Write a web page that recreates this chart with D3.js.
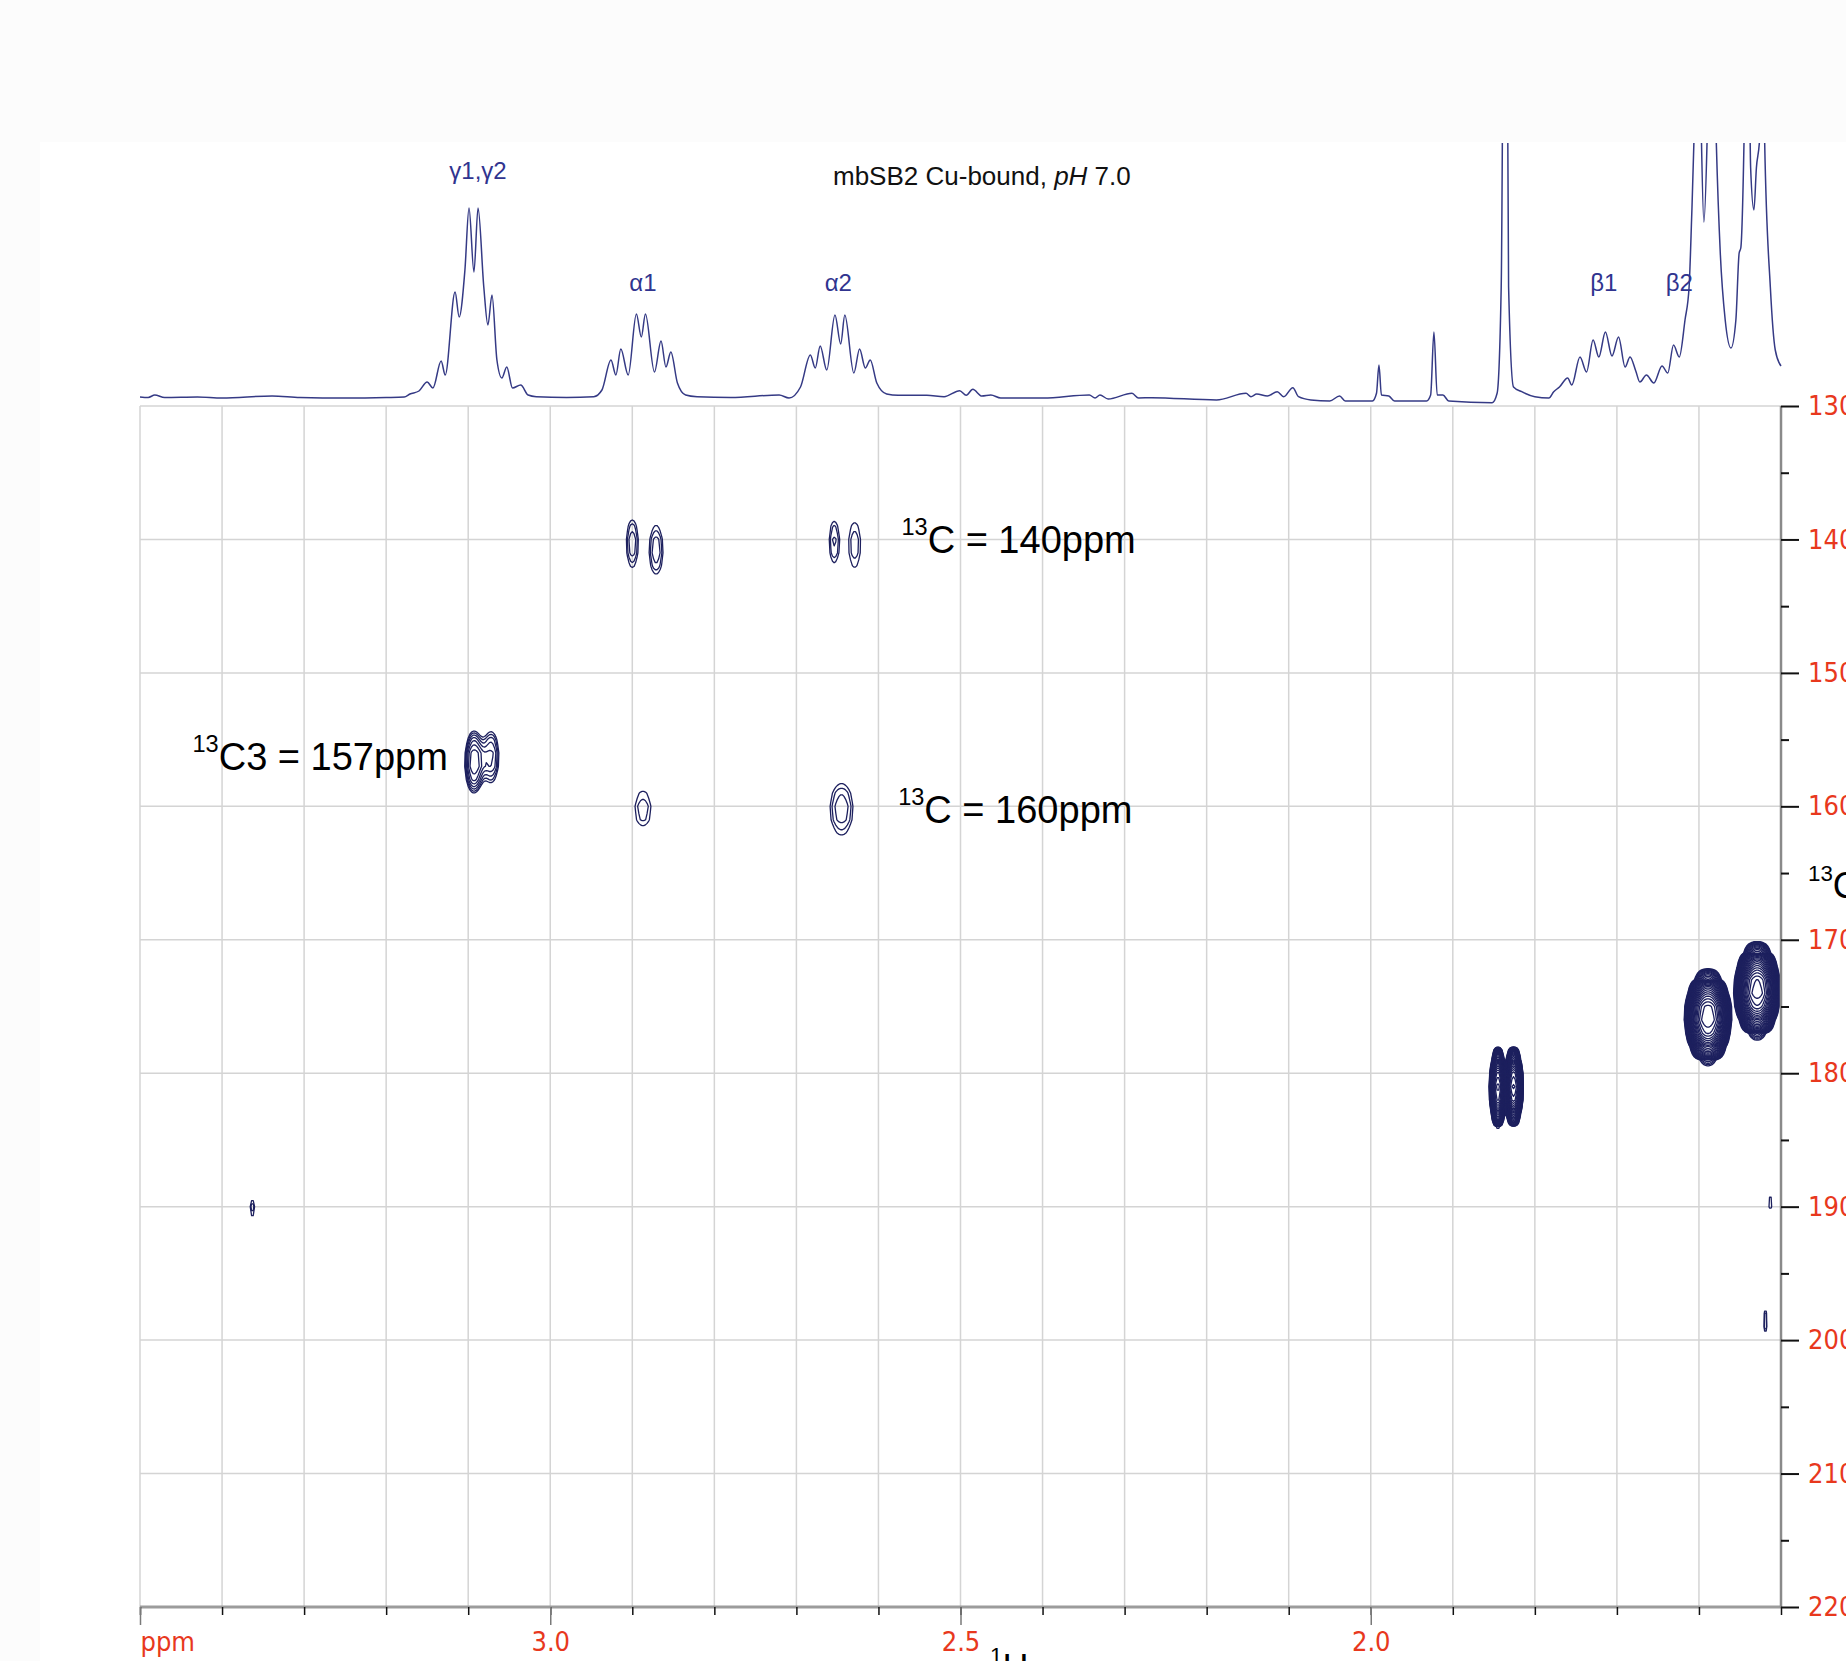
<!DOCTYPE html>
<html><head><meta charset="utf-8">
<script src="https://cdn.jsdelivr.net/npm/d3@7"></script>
<style>
body{margin:0;background:#fcfcfc;}
svg{display:block;}
</style>
</head><body>
<svg id="chart" width="1846" height="1661"></svg>
<script>
// ---------------- DATA ----------------
// 1D 1H projection trace: chemical shift (ppm) and intensity (arb. units)
const specPpm = [3.500,3.490,3.482,3.470,3.430,3.400,3.339,3.305,3.250,3.200,3.178,3.171,3.160,3.150,3.143,3.133,3.128,3.116,3.111,3.104,3.099,3.093,3.088,3.081,3.076,3.071,3.065,3.059,3.053,3.046,3.036,3.027,3.017,2.980,
2.947,2.937,2.926,2.920,2.914,2.905,2.895,2.889,2.884,2.873,2.865,2.859,2.853,2.845,2.835,2.821,2.780,
2.721,2.709,2.695,2.683,2.677,2.671,2.663,2.653,2.646,2.641,2.630,2.623,2.616,2.610,2.602,2.590,2.576,2.541,2.520,2.501,2.493,2.485,2.474,2.463,2.451,
2.399,2.343,2.336,2.330,2.320,2.291,2.283,2.267,2.188,2.152,2.146,2.139,2.126,2.114,2.106,2.095,2.088,2.073,2.050,2.038,2.031,
1.998,1.993,1.990,1.987,1.978,1.971,1.932,1.927,1.923,1.919,1.912,1.905,1.852,1.846,1.841,1.836,1.832,1.826,1.816,1.800,1.783,
1.777,1.770,1.760,1.755,1.745,1.737,1.729,1.722,1.714,1.706,1.698,1.690,1.684,1.677,1.672,1.664,1.655,1.645,1.638,1.631,1.624,1.617,1.612,1.609,
1.606,1.601,1.597,1.594,1.590,1.585,1.579,1.574,1.568,1.561,1.555,1.551,1.549,1.545,1.541,1.537,1.533,1.530,1.526,1.523,1.520,1.513,1.507,1.500];
const specInt = [1,0.5,3,0.5,1,0,2,0.5,0,0.5,1,4,7,16,10,37,23,106,81,128,190,126,190,111,73,103,38,20,31,10,13,3,1.3,0.5,
1.3,8,38,23,49,23,84,61,84,26,57,31,46,15,3,1.3,0.5,
3,0,11,43,30,52,28,83,54,83,25,49,30,38,15,4,2.7,2.7,1.3,7.3,2.7,8.7,2,3,0,
0,3,0,3,-1,4.7,0,0.3,-2,4.7,1.3,4,2,6.3,1.3,10.3,1.3,-2,-3,2,-3,
-3,4.7,33,3,2,-3,-3,3,66,3,3,-3,-4.7,4.7,111,700,111,11,6.3,1.3,0,
6.3,11,20,13,41,26,58,41,66,42,61,31,41,27,16,23,15,32,25,53,41,78,111,178,
260,500,260,176,260,500,260,145,78,50,78,145,150,260,500,230,188,230,260,500,260,111,48,32];

// 2D cross peaks (1H ppm, 13C ppm, relative amplitude, outer half-width 1H ppm, outer half-height 13C ppm)
const peakH   = [2.900, 2.871, 2.654, 2.629, 3.093, 3.072, 2.887, 2.645, 1.845, 1.826, 1.589, 1.529, 3.363, 1.513, 1.519];
const peakC   = [140.3, 140.8, 140.2, 140.4, 156.7, 156.3, 160.2, 160.2, 181.1, 181.0, 175.8, 173.8, 190.1, 189.6, 198.6];
const peakAmp = [1.45, 1.45, 1.35, 1.25, 2.6, 1.8, 1.25, 1.45, 40, 45, 50, 55, 1.3, 1.2, 1.5];
const peakHW  = [0.0073, 0.0085, 0.0060, 0.0073, 0.0113, 0.0095, 0.0098, 0.0140, 0.0105, 0.0120, 0.0290, 0.0285, 0.0028, 0.0025, 0.0020];
const peakCW  = [1.8, 1.85, 1.6, 1.7, 2.3, 1.9, 1.35, 1.95, 2.96, 2.9, 3.4, 3.45, 0.8, 0.6, 0.9];

// axes
const hTicks = [3.5,3.4,3.3,3.2,3.1,3.0,2.9,2.8,2.7,2.6,2.5,2.4,2.3,2.2,2.1,2.0,1.9,1.8,1.7,1.6,1.5];
const hMajor = [3.5,3.0,2.5,2.0];
const hMajorLabels = ["ppm","3.0","2.5","2.0"];
const cTicks = [130,140,150,160,170,180,190,200,210,220];
const cMinor = [135,145,155,165,175,185,195,205,215];

// annotations
const peakLabels = ["γ1,γ2","α1","α2","β1","β2"];
const peakLabelPpm = [3.088, 2.887, 2.649, 1.716, 1.624];
const peakLabelLevel = [219, 107, 107, 107, 107];
const shiftNotes = ["C = 140ppm","C3 = 157ppm","C = 160ppm"];
const shiftNoteH = [2.572, 3.436, 2.576];
const shiftNoteC = [141.0, 157.3, 161.25];
const title = ["mbSB2 Cu-bound, ","pH"," 7.0"];

// ---------------- DRAW ----------------
const W = 1846, H = 1661;
const svg = d3.select("#chart");
const x = d3.scaleLinear().domain([3.5, 1.5]).range([140, 1781]);
const yC = d3.scaleLinear().domain([130, 220]).range([406, 1607]);
const yS = d3.scaleLinear().domain([0, 255]).range([398, 143]);

svg.append("rect").attr("x",40).attr("y",142).attr("width",W-40).attr("height",H-142).attr("fill","#ffffff");

// grid
const grid = svg.append("g").attr("stroke","#d4d4d4").attr("stroke-width",1.5);
grid.selectAll("line.v").data(hTicks.slice(0,-1)).join("line")
  .attr("x1",d=>x(d)).attr("x2",d=>x(d)).attr("y1",yC(130)).attr("y2",yC(220));
grid.selectAll("line.h").data(cTicks.slice(0,-1)).join("line")
  .attr("x1",x(3.5)).attr("x2",x(1.5)).attr("y1",d=>yC(d)).attr("y2",d=>yC(d));

// contours
const hStep = 0.002, cStep = 1.0, P = 2.6;
const nx = Math.round(2/hStep)+1, ny = Math.round(90/cStep)+1;
const vals = new Float64Array(nx*ny);
const sig = peakH.map((_,k)=>{
  const f = Math.pow(2*Math.log(peakAmp[k]), 1/P);
  return [peakHW[k]/f, peakCW[k]/f];
});
for (let j=0;j<ny;j++){
  const c = 130 + j*cStep;
  for (let i=0;i<nx;i++){
    const h = 3.5 - i*hStep;
    let v = 0;
    for (let k=0;k<peakH.length;k++){
      const dh = Math.abs(h-peakH[k])/sig[k][0], dc = Math.abs(c-peakC[k])/sig[k][1];
      const r = Math.sqrt(dh*dh+dc*dc);
      const e = 0.5*Math.pow(r, P);
      if (e < 30) v += peakAmp[k]*Math.exp(-e);
    }
    vals[j*nx+i] = v;
  }
}
const thresholds = d3.range(0, 32).map(k=>Math.pow(1.15,k));
const contours = d3.contours().size([nx,ny]).thresholds(thresholds)(Array.from(vals));
const proj = d3.geoTransform({point:function(gx,gy){
  this.stream.point(x(3.5-(gx-0.5)*hStep), yC(130+(gy-0.5)*cStep));
}});
svg.append("g").selectAll("path").data(contours).join("path")
  .attr("d", d3.geoPath(proj))
  .attr("fill","none").attr("stroke","#1d205e").attr("stroke-width",1.3).attr("stroke-linejoin","round");

// 1D spectrum
svg.append("clipPath").attr("id","sclip").append("rect").attr("x",130).attr("y",143).attr("width",1670).attr("height",280);
const line = d3.line().x((d,i)=>x(specPpm[i])).y((d,i)=>yS(specInt[i])).curve(d3.curveMonotoneX);
svg.append("path").attr("clip-path","url(#sclip)").attr("d", line(specPpm))
  .attr("fill","none").attr("stroke","#353a85").attr("stroke-width",1.5);

// bottom axis
svg.append("line").attr("x1",x(3.5)).attr("x2",x(1.5)).attr("y1",yC(220)).attr("y2",yC(220))
  .attr("stroke","#9c9c9c").attr("stroke-width",3);
const gMinor = svg.append("g").attr("transform",`translate(0,${yC(220)})`)
  .call(d3.axisBottom(x).tickValues(hTicks).tickSize(8).tickFormat(""));
gMinor.select(".domain").remove();
gMinor.selectAll(".tick line").attr("stroke","#111").attr("stroke-width",1.5);
const gMajor = svg.append("g").attr("transform",`translate(0,${yC(220)})`)
  .call(d3.axisBottom(x).tickValues(hMajor).tickSize(18).tickFormat((d,i)=>hMajorLabels[i]));
gMajor.select(".domain").remove();
gMajor.selectAll(".tick line").attr("stroke","#7a7a7a").attr("stroke-width",1.5);
gMajor.selectAll(".tick text").attr("y",44).attr("dy",0)
  .attr("fill","#e8381d").attr("font-size",27)
  .attr("font-family","'DejaVu Sans Condensed','DejaVu Sans',sans-serif").attr("font-stretch","condensed")
  .attr("text-anchor",(d,i)=>i===0?"start":"middle");

// right axis
svg.append("line").attr("x1",x(1.5)).attr("x2",x(1.5)).attr("y1",yC(130)).attr("y2",yC(220))
  .attr("stroke","#8a8a8a").attr("stroke-width",2.5);
const gR = svg.append("g").attr("transform",`translate(${x(1.5)},0)`)
  .call(d3.axisRight(yC).tickValues(cTicks).tickSize(18).tickPadding(9));
gR.select(".domain").remove();
gR.selectAll(".tick line").attr("stroke","#111").attr("stroke-width",2);
gR.selectAll(".tick text").attr("fill","#e8381d").attr("font-size",27)
  .attr("font-family","'DejaVu Sans Condensed','DejaVu Sans',sans-serif").attr("font-stretch","condensed");
const gRm = svg.append("g").attr("transform",`translate(${x(1.5)},0)`)
  .call(d3.axisRight(yC).tickValues(cMinor).tickSize(8).tickFormat(""));
gRm.select(".domain").remove();
gRm.selectAll(".tick line").attr("stroke","#111").attr("stroke-width",2);

// axis titles
const font = "'Liberation Sans',Arial,Helvetica,sans-serif";
function isoLabel(xp, yp, sup, main, size){
  const t = svg.append("text").attr("x",xp).attr("y",yp).attr("font-family",font).attr("fill","#000");
  t.append("tspan").text(sup).attr("font-size",size*0.62).attr("dy",-size*0.48);
  t.append("tspan").text(main).attr("font-size",size).attr("dy",size*0.48);
  return t;
}
isoLabel(1808, 898, "13", "C", 36);
isoLabel(990, 1680, "1", "H", 36);

// shift annotations
shiftNotes.forEach((s,i)=>isoLabel(x(shiftNoteH[i]), yC(shiftNoteC[i]), "13", s, 38));

// peak labels
svg.append("g").selectAll("text").data(peakLabels).join("text")
  .attr("x",(d,i)=>x(peakLabelPpm[i])).attr("y",(d,i)=>yS(peakLabelLevel[i]))
  .attr("text-anchor","middle").attr("font-family",font).attr("font-size",24)
  .attr("fill","#30348f").text(d=>d);

// title
const tt = svg.append("text").attr("x",833).attr("y",185).attr("font-family",font).attr("font-size",26).attr("fill","#111");
tt.append("tspan").text(title[0]);
tt.append("tspan").text(title[1]).attr("font-style","italic");
tt.append("tspan").text(title[2]);
</script>
</body></html>
